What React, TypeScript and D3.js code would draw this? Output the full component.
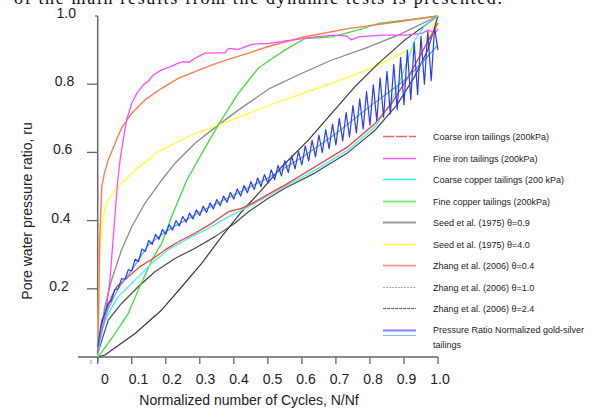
import * as d3 from "d3";

// N/Nf vs ru
const coarseIron: [number, number][] = [
  [0, 0.01], [0.012, 0.108], [0.026, 0.138], [0.041, 0.177], [0.056, 0.206], [0.09, 0.235],
  [0.124, 0.265], [0.163, 0.289], [0.198, 0.314], [0.237, 0.338], [0.286, 0.363], [0.335, 0.392],
  [0.384, 0.426], [0.423, 0.436], [0.462, 0.455], [0.506, 0.48], [0.55, 0.504], [0.639, 0.558],
  [0.736, 0.617], [0.815, 0.685], [0.864, 0.744], [0.913, 0.822], [0.962, 0.91], [1, 0.98],
];
const fineIron: [number, number][] = [
  [0, 0.03], [0.01, 0.06], [0.025, 0.14], [0.036, 0.226], [0.048, 0.38], [0.059, 0.519],
  [0.066, 0.58], [0.075, 0.636], [0.085, 0.695], [0.1, 0.744], [0.115, 0.773], [0.134, 0.798],
  [0.15, 0.81], [0.163, 0.827], [0.188, 0.842], [0.217, 0.853], [0.235, 0.861], [0.252, 0.866],
  [0.268, 0.864], [0.286, 0.876], [0.315, 0.891], [0.345, 0.892], [0.374, 0.892], [0.384, 0.905],
  [0.413, 0.902], [0.453, 0.917], [0.506, 0.92], [0.55, 0.927], [0.6, 0.933], [0.639, 0.939],
  [0.697, 0.944], [0.73, 0.942], [0.746, 0.93], [0.766, 0.939], [0.834, 0.944], [0.903, 0.944],
  [0.952, 0.949], [0.971, 0.959], [0.991, 0.95], [1, 0.962],
];
const coarseCopper: [number, number][] = [
  [0, 0], [0.012, 0.079], [0.031, 0.128], [0.061, 0.177], [0.09, 0.206], [0.119, 0.235],
  [0.159, 0.275], [0.207, 0.314], [0.266, 0.348], [0.325, 0.377], [0.384, 0.411], [0.433, 0.436],
  [0.506, 0.475], [0.55, 0.5], [0.639, 0.548], [0.736, 0.607], [0.815, 0.675], [0.864, 0.75],
  [0.893, 0.822], [0.932, 0.93], [0.962, 0.973], [1, 1],
];
const fineCopper: [number, number][] = [
  [0.002, 0.001], [0.051, 0.069], [0.09, 0.128], [0.119, 0.196], [0.159, 0.284], [0.188, 0.333],
  [0.217, 0.411], [0.262, 0.519], [0.306, 0.597], [0.354, 0.68], [0.413, 0.773], [0.472, 0.847],
  [0.506, 0.871], [0.55, 0.9], [0.609, 0.934], [0.688, 0.939], [0.766, 0.959], [0.825, 0.978],
  [0.903, 0.988], [1, 1],
];
const seed09: [number, number][] = [
  [0, 0], [0.007, 0.06], [0.021, 0.147], [0.041, 0.226], [0.07, 0.314], [0.1, 0.382],
  [0.139, 0.451], [0.188, 0.519], [0.227, 0.568], [0.286, 0.627], [0.354, 0.68], [0.413, 0.724],
  [0.506, 0.788], [0.589, 0.827], [0.688, 0.871], [0.785, 0.905], [0.883, 0.944], [1, 1],
];
const seed40: [number, number][] = [
  [0, 0], [0.001, 0.1], [0.003, 0.2], [0.007, 0.323], [0.016, 0.411], [0.026, 0.451],
  [0.051, 0.49], [0.08, 0.519], [0.11, 0.548], [0.178, 0.602], [0.276, 0.651], [0.354, 0.68],
  [0.433, 0.71], [0.506, 0.739], [0.589, 0.768], [0.688, 0.803], [0.766, 0.832], [0.834, 0.861],
  [0.903, 0.895], [0.952, 0.92], [0.975, 0.95], [1, 1],
];
const zhang04: [number, number][] = [
  [0, 0], [0.003, 0.15], [0.006, 0.35], [0.012, 0.5], [0.02, 0.54], [0.031, 0.578],
  [0.051, 0.627], [0.07, 0.671], [0.1, 0.715], [0.139, 0.754], [0.188, 0.788], [0.237, 0.817],
  [0.286, 0.837], [0.335, 0.856], [0.384, 0.873], [0.443, 0.891], [0.506, 0.912], [0.609, 0.939],
  [0.736, 0.963], [0.883, 0.983], [1, 1],
];
const zhang10: [number, number][] = [
  [0, 0.01], [0.031, 0.108], [0.07, 0.157], [0.119, 0.206], [0.168, 0.25], [0.227, 0.289],
  [0.286, 0.319], [0.345, 0.353], [0.403, 0.392], [0.443, 0.426], [0.5, 0.465], [0.55, 0.495],
  [0.639, 0.54], [0.736, 0.6], [0.815, 0.665], [0.88, 0.74], [0.93, 0.82], [0.97, 0.9], [1, 1],
];
const zhang24: [number, number][] = [
  [0, 0], [0.021, 0.006], [0.11, 0.069], [0.188, 0.138], [0.247, 0.206], [0.306, 0.275],
  [0.364, 0.353], [0.423, 0.426], [0.482, 0.49], [0.541, 0.558], [0.619, 0.636], [0.688, 0.715],
  [0.756, 0.793], [0.825, 0.861], [0.903, 0.93], [1, 1],
];
// gold-silver tailings: one reading per 0.01 N/Nf
const goldSilverStep = 0.01;
const goldSilverRaw = [
  0.03, 0.095, 0.125, 0.158, 0.165, 0.198, 0.2, 0.23, 0.228, 0.256,
  0.252, 0.287, 0.28, 0.317, 0.31, 0.342, 0.33, 0.36, 0.345, 0.374,
  0.36, 0.388, 0.372, 0.4, 0.384, 0.412, 0.395, 0.422, 0.405, 0.432,
  0.415, 0.442, 0.424, 0.452, 0.434, 0.462, 0.444, 0.472, 0.454, 0.483,
  0.463, 0.493, 0.472, 0.503, 0.482, 0.514, 0.491, 0.525, 0.5, 0.535,
  0.51, 0.549, 0.52, 0.562, 0.531, 0.576, 0.541, 0.59, 0.552, 0.603,
  0.563, 0.619, 0.575, 0.635, 0.587, 0.651, 0.599, 0.667, 0.611, 0.683,
  0.622, 0.7, 0.634, 0.717, 0.645, 0.737, 0.657, 0.757, 0.669, 0.778,
  0.68, 0.798, 0.692, 0.818, 0.703, 0.838, 0.713, 0.858, 0.726, 0.878,
  0.74, 0.9, 0.755, 0.922, 0.77, 0.94, 0.8, 0.955, 0.81, 0.965, 0.9,
];
const goldSilverNormalized: [number, number][] = [
  [0, 0.02], [0.01, 0.07], [0.03, 0.14], [0.06, 0.2], [0.1, 0.255], [0.15, 0.33], [0.2, 0.368],
  [0.3, 0.425], [0.4, 0.475], [0.5, 0.525], [0.6, 0.585], [0.7, 0.655], [0.8, 0.735],
  [0.9, 0.81], [0.95, 0.86], [1, 0.915],
];

const xTicks = [0, 0.1, 0.2, 0.3, 0.4, 0.5, 0.6, 0.7, 0.8, 0.9, 1.0];
const xTickLabels = ["0", "0.1", "0.2", "0.3", "0.4", "0.5", "0.6", "0.7", "0.8", "0.9", "1.0"];
const yTicks = [0.2, 0.4, 0.6, 0.8, 1.0];
const yTickLabels = ["0.2", "0.4", "0.6", "0.8", "1.0"];

const legendNames = [
  "Coarse iron tailings (200kPa)",
  "Fine iron tailings (200kPa)",
  "Coarse copper tailings (200 kPa)",
  "Fine copper tailings (200kPa)",
  "Seed et al. (1975) θ=0.9",
  "Seed et al. (1975) θ=4.0",
  "Zhang et al. (2006) θ=0.4",
  "Zhang et al. (2006) θ=1.0",
  "Zhang et al. (2006) θ=2.4",
];

const W = 598, H = 412;
const font = "'Liberation Sans', Arial, sans-serif";

const App = () => {
  const x = d3.scaleLinear().domain([0, 1]).range([97.7, 438]);
  const y = d3.scaleLinear().domain([0, 1]).range([357, 16]);
  const xLab = d3.scaleLinear().domain([0, 1]).range([105, 440]);
  const line = d3
    .line<[number, number]>()
    .x((d) => x(d[0]))
    .y((d) => y(d[1]));

  const goldSilver: [number, number][] = goldSilverRaw.map((v, i) => [i * goldSilverStep, v]);

  const curves = [
    { data: seed09, color: "#8c8c8c", w: 1.3 },
    { data: seed40, color: "#ffff30", w: 1.3 },
    { data: zhang24, color: "#3a3a3a", w: 1.2 },
    { data: zhang10, color: "#4a4a4a", w: 1.2 },
    { data: fineCopper, color: "#3ee03e", w: 1.3 },
    { data: zhang04, color: "#ff7a50", w: 1.4 },
    { data: fineIron, color: "#ff4dff", w: 1.3 },
    { data: coarseCopper, color: "#3ff5f5", w: 1.3 },
    { data: coarseIron, color: "#ff3a3a", w: 1.3 },
    { data: goldSilverNormalized, color: "#4aa8ff", w: 1.2 },
    { data: goldSilver, color: "#2a3cf0", w: 1.2 },
  ];

  const legendStyles = [
    { color: "#ff6060", dash: "11,2", w: 1.4 },
    { color: "#ff55ff", dash: "", w: 1.4 },
    { color: "#33f0f0", dash: "", w: 1.4 },
    { color: "#55ee55", dash: "", w: 1.4 },
    { color: "#999999", dash: "", w: 1.8 },
    { color: "#ffff33", dash: "", w: 1.4 },
    { color: "#ff8866", dash: "", w: 1.4 },
    { color: "#aaaaaa", dash: "2,1", w: 1 },
    { color: "#666666", dash: "3,1", w: 1 },
  ];
  const legendY = d3.scaleLinear().domain([0, 9]).range([136, 330]);

  return (
    <svg
      width={W}
      height={H}
      style={{ position: "absolute", left: 0, top: 0, background: "#fff" }}
      fontFamily={font}
    >
      <text
        x={14}
        y={3.5}
        fontFamily="'Liberation Serif', 'Times New Roman', serif"
        fontSize={18}
        textLength={488}
        fill="#111"
      >
        of the main results from the dynamic tests is presented.
      </text>

      {/* axes */}
      <line x1={78} x2={438} y1={357} y2={357} stroke="#666" strokeWidth={1.5} />
      <line x1={97.7} x2={97.7} y1={16} y2={362} stroke="#666" strokeWidth={1.5} />
      <line x1={95} x2={97.7} y1={16} y2={16} stroke="#666" strokeWidth={1.2} />
      {xTicks.map((t, i) => (
        <g key={"x" + i}>
          <line x1={x(t)} x2={x(t)} y1={357} y2={364} stroke="#666" strokeWidth={1.3} />
          <text x={xLab(t)} y={384} fontSize={14} textAnchor="middle" fill="#222">
            {xTickLabels[i]}
          </text>
        </g>
      ))}
      {yTicks.slice(0, 4).map((t) => (
        <line key={"yt" + t} x1={87} x2={97.7} y1={y(t)} y2={y(t)} stroke="#666" strokeWidth={1.3} />
      ))}
      {yTicks.map((t, i) => (
        <text key={"yl" + t} x={67 + t * 9} y={y(t) + 2} fontSize={14} textAnchor="end" fill="#222">
          {yTickLabels[i]}
        </text>
      ))}
      <text x={91} y={364} fontSize={5} fill="#888" textAnchor="middle">
        0
      </text>

      <text x={249} y={405} fontSize={14} textAnchor="middle" fill="#222">
        Normalized number of Cycles, N/Nf
      </text>
      <text
        transform={`translate(32,211) rotate(-90)`}
        fontSize={14}
        textAnchor="middle"
        fill="#222"
      >
        Pore water pressure ratio, ru
      </text>

      {/* curves */}
      {curves.map((c, i) => (
        <path
          key={"c" + i}
          d={line(c.data) as string}
          fill="none"
          stroke={c.color}
          strokeWidth={c.w}
          strokeLinejoin="round"
        />
      ))}

      {/* legend */}
      {legendNames.map((name, i) => {
        const ly = Math.round(legendY(i)) + 0.5;
        const s = legendStyles[i];
        return (
          <g key={"lg" + i}>
            <line
              x1={383}
              x2={416}
              y1={ly}
              y2={ly}
              stroke={s.color}
              strokeWidth={s.w}
              strokeDasharray={s.dash || undefined}
            />
            <text x={433} y={ly + 3} fontSize={9} fill="#222">
              {name}
            </text>
          </g>
        );
      })}
      <line x1={383} x2={416} y1={330.5} y2={330.5} stroke="#8080ff" strokeWidth={2} />
      <line x1={383} x2={416} y1={335.5} y2={335.5} stroke="#77c0ff" strokeWidth={1} />
      <text x={433} y={333} fontSize={9} fill="#222">
        Pressure Ratio Normalized gold-silver
      </text>
      <text x={433} y={348} fontSize={9} fill="#222">
        tailings
      </text>
    </svg>
  );
};

export default App;
